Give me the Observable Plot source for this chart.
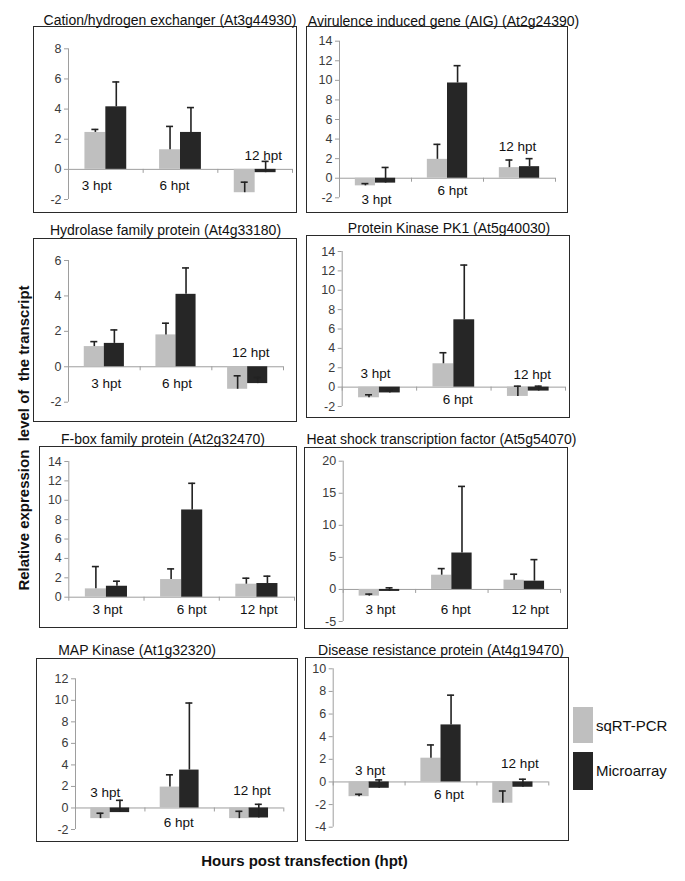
<!DOCTYPE html>
<html><head><meta charset="utf-8">
<script src="https://cdn.jsdelivr.net/npm/d3@7"></script>
<script src="https://cdn.jsdelivr.net/npm/@observablehq/plot@0.6"></script>
<style>
html,body{margin:0;padding:0;background:#fff;}
#root{position:relative;width:685px;height:881px;background:#fff;font-family:"Liberation Sans",Arial,sans-serif;overflow:hidden;}
.panel{position:absolute;}
.panel svg{position:absolute;left:0;top:0;}
.box{position:absolute;border:1px solid #2a2a2a;box-sizing:border-box;pointer-events:none;}
.sw{position:absolute;}
</style></head><body><div id="root"></div>
<script>
// ---------- data ----------
const categories = ["3 hpt", "6 hpt", "12 hpt"];
const seriesNames = ["sqRT-PCR", "Microarray"];
const geneTitles = [
  "Cation/hydrogen exchanger (At3g44930)",
  "Avirulence induced gene (AIG) (At2g24390)",
  "Hydrolase family protein (At4g33180)",
  "Protein Kinase PK1 (At5g40030)",
  "F-box family protein (At2g32470)",
  "Heat shock transcription factor (At5g54070)",
  "MAP Kinase (At1g32320)",
  "Disease resistance protein (At4g19470)"
];
const sqRTPCR = [
  [2.45, 1.3, -1.55],
  [-0.78, 1.93, 1.08],
  [1.14, 1.8, -1.27],
  [-1.1, 2.41, -0.96],
  [0.86, 1.82, 1.34],
  [-1.04, 2.22, 1.44],
  [-0.99, 1.94, -0.99],
  [-1.3, 2.1, -1.88]
];
const sqRTPCRError = [
  [0.2, 1.55, 0.7],
  [0.23, 1.53, 0.78],
  [0.28, 0.66, 0.76],
  [0.31, 1.14, 1.06],
  [2.3, 1.1, 0.62],
  [0.31, 1.03, 0.93],
  [0.5, 1.14, 0.68],
  [0.21, 1.17, 1.08]
];
const microarray = [
  [4.15, 2.45, -0.22],
  [-0.5, 9.73, 1.18],
  [1.32, 4.09, -0.95],
  [-0.6, 6.95, -0.41],
  [1.13, 9.0, 1.41],
  [-0.31, 5.68, 1.29],
  [-0.43, 3.52, -0.93],
  [-0.56, 5.04, -0.47]
];
const microarrayError = [
  [1.65, 1.65, 0.75],
  [1.6, 1.77, 0.82],
  [0.76, 1.49, 0.35],
  [0.26, 5.65, 0.51],
  [0.52, 2.75, 0.76],
  [0.56, 10.39, 3.36],
  [1.14, 6.23, 1.27],
  [0.74, 2.63, 0.71]
];
const yTicks = [
  [-2, 0, 2, 4, 6, 8],
  [-2, 0, 2, 4, 6, 8, 10, 12, 14],
  [-2, 0, 2, 4, 6],
  [-2, 0, 2, 4, 6, 8, 10, 12, 14],
  [0, 2, 4, 6, 8, 10, 12, 14],
  [-5, 0, 5, 10, 15, 20],
  [-2, 0, 2, 4, 6, 8, 10, 12],
  [-4, -2, 0, 2, 4, 6, 8, 10]
];
const yTitle = "Relative expression  level of  the transcript";
const xTitle = "Hours post transfection (hpt)";

// ---------- layout (positions / styles only) ----------
const layout = [
  {L:33, T:26, R:297, B:213, ax:68, end:292, top:48.3, bot:199, tx:170, ty:20, ly:[-1.07,-1.07,0.93], ldx:[-9,-6,8]},
  {L:306, T:26, R:568, B:213, ax:339, end:555, top:40.7, bot:197.3, tx:443.5, ty:20.7, ly:[-2.2,-1.3,3.2], ldx:[1,5,-2]},
  {L:33, T:238, R:297, B:422, ax:68, end:283, top:260, bot:401.7, tx:165.5, ty:230, ly:[-0.95,-0.95,0.81], ldx:[2,1,3]},
  {L:306, T:235, R:570, B:418, ax:341.7, end:565, top:251, bot:406, tx:449, ty:228.3, ly:[1.38,-1.3,1.28], ldx:[-4,4,4]},
  {L:39, T:446, R:297, B:628, ax:68.3, end:294, top:461, bot:596.7, tx:163, ty:439, ly:[-1.3,-1.3,-1.3], ldx:[1,10,2]},
  {L:304, T:447, R:568, B:629, ax:342.7, end:560, top:460.7, bot:621, tx:441.5, ty:439, ly:[-3.1,-3.1,-3.1], ldx:[1,4,6]},
  {L:36, T:658, R:298, B:842, ax:75, end:283.3, top:678.3, bot:829, tx:137, ty:650, ly:[1.42,-1.36,1.64], ldx:[-5,-1,3]},
  {L:305, T:657, R:569, B:841, ax:332.7, end:548.3, top:668.3, bot:826.7, tx:441, ty:650, ly:[1.03,-1.09,1.62], ldx:[1,8,7]}
];
const FONT = '"Liberation Sans", Arial, Helvetica, sans-serif';
const colors = ["#bfbfbf", "#262626"];
const lineGray = "#9e9e9e";
const barFrac = 0.28;

const root = document.getElementById("root");

layout.forEach((p, g) => {
  const ticks = yTicks[g];
  const ymin = d3.min(ticks), ymax = d3.max(ticks);
  const rows = [];
  categories.forEach((c, i) => {
    rows.push({i, s: 0, series: seriesNames[0], value: sqRTPCR[g][i], err: sqRTPCRError[g][i]});
    rows.push({i, s: 1, series: seriesNames[1], value: microarray[g][i], err: microarrayError[g][i]});
  });
  const W = p.R - p.L, H = p.B - p.T;
  const center = d => d.i + 0.5 + (d.s === 0 ? -barFrac / 2 : barFrac / 2);
  const chart = Plot.plot({
    width: W, height: H,
    marginLeft: p.ax - p.L, marginRight: p.R - p.end,
    marginTop: p.top - p.T, marginBottom: p.B - p.bot,
    style: {fontFamily: FONT, background: "transparent", overflow: "visible"},
    x: {domain: [0, 3], axis: null},
    y: {domain: [ymin, ymax]},
    color: {domain: seriesNames, range: colors},
    marks: [
      Plot.ruleY([0], {stroke: lineGray}),
      Plot.ruleX([0, 1, 2, 3], {x: d => d, y1: () => 0, y2: () => 0, insetBottom: -4, stroke: lineGray}),
      Plot.ruleX([0], {x: d => d, y1: () => ymin, y2: () => ymax, stroke: lineGray}),
      Plot.axisY({ticks, tickSize: 4, tickPadding: 3, stroke: lineGray, color: "#3a3a3a", fontSize: 12.5, tickFormat: d => String(d), label: null}),
      Plot.rectY(rows, {
        x1: d => d.i + 0.5 - (d.s === 0 ? barFrac : 0),
        x2: d => d.i + 0.5 + (d.s === 1 ? barFrac : 0),
        y1: () => 0, y2: "value", fill: "series"
      }),
      Plot.ruleX(rows, {x: center, y1: "value", y2: d => d.value + d.err, stroke: "#222", strokeWidth: 1.6}),
      Plot.ruleY(rows, {x1: center, x2: center, y: d => d.value + d.err, insetLeft: -3.5, insetRight: -3.5, stroke: "#222", strokeWidth: 1.6}),
      ...categories.map((c, i) => Plot.text([c], {x: () => i + 0.5, y: () => p.ly[i], dx: p.ldx[i], text: d => d, fontSize: 13.5, fill: "#111"}))
    ]
  });
  const div = document.createElement("div");
  div.className = "panel";
  div.style.left = p.L + "px"; div.style.top = p.T + "px";
  div.style.width = W + "px"; div.style.height = H + "px";
  div.appendChild(chart);
  const box = document.createElement("div");
  box.className = "box";
  box.style.left = "0px"; box.style.top = "0px"; box.style.width = W + "px"; box.style.height = H + "px";
  div.appendChild(box);
  root.appendChild(div);
});

// legend swatches
[[573, 707, 20, 36, colors[0]], [573, 752, 20, 38, colors[1]]].forEach(([x, y, w, h, c]) => {
  const s = document.createElement("div");
  s.className = "sw";
  s.style.left = x + "px"; s.style.top = y + "px"; s.style.width = w + "px"; s.style.height = h + "px";
  s.style.background = c;
  root.appendChild(s);
});

// page-level text overlay
const svg = d3.select(root).append("svg")
  .attr("width", 685).attr("height", 881)
  .style("position", "absolute").style("left", 0).style("top", 0)
  .style("font-family", FONT).style("pointer-events", "none");

layout.forEach((p, g) => {
  svg.append("text").attr("x", p.tx).attr("y", p.ty)
    .attr("text-anchor", "middle").attr("dominant-baseline", "central")
    .attr("font-size", 14).attr("fill", "#111").text(geneTitles[g]);
});
svg.append("text").attr("transform", "translate(23,438) rotate(-90)")
  .attr("text-anchor", "middle").attr("dominant-baseline", "central")
  .attr("font-size", 15).attr("font-weight", "bold").attr("fill", "#111")
  .style("white-space", "pre").text(yTitle);
svg.append("text").attr("x", 304.5).attr("y", 860)
  .attr("text-anchor", "middle").attr("dominant-baseline", "central")
  .attr("font-size", 15).attr("font-weight", "bold").attr("fill", "#111")
  .text(xTitle);
[[seriesNames[0], 725], [seriesNames[1], 770]].forEach(([t, y]) => {
  svg.append("text").attr("x", 596).attr("y", y)
    .attr("dominant-baseline", "central")
    .attr("font-size", 15).attr("fill", "#111").text(t);
});
</script></body></html>
